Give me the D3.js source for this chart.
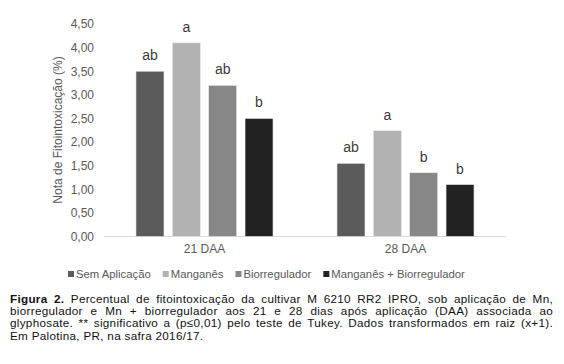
<!DOCTYPE html>
<meta charset="utf-8">
<head>
<script src="https://cdn.jsdelivr.net/npm/d3@7"></script>
<style>
body { margin: 0; background: #fff; }
svg { display: block; font-family: "Liberation Sans", Arial, sans-serif; }
.axis text { font-size: 12px; fill: #595959; }
.caption { position: absolute; left: 10px; top: 292.5px; width: 543px;
  font-family: "Liberation Sans", Arial, sans-serif; font-size: 11.7px; letter-spacing: 0.3px;
  line-height: 12.4px; color: #111; }
.caption div { text-align: justify; text-align-last: justify; white-space: nowrap; }
.caption div.last { text-align-last: left; }
</style>
</head>
<body>
<div id="chart"></div>
<div class="caption" id="caption"></div>
<script>
// data
var categories = ["21 DAA", "28 DAA"];
var series = ["Sem Aplicação", "Manganês", "Biorregulador", "Manganês + Biorregulador"];
var colors = ["#5b5b5b", "#b2b2b2", "#878787", "#222222"];
var values = [
    [3.5, 1.55],   // Sem Aplicação
    [4.1, 2.24],   // Manganês
    [3.2, 1.35],   // Biorregulador
    [2.5, 1.1]     // Manganês + Biorregulador
];
var letters = [
    ["ab", "ab"],
    ["a", "a"],
    ["ab", "b"],
    ["b", "b"]
];
var yTicks = [0, 0.5, 1, 1.5, 2, 2.5, 3, 3.5, 4, 4.5];
var captionLines = [
    "<b>Figura 2.</b> Percentual de fitointoxicação da cultivar M 6210 RR2 IPRO, sob aplicação de Mn,",
    "biorregulador e Mn + biorregulador aos 21 e 28 dias após aplicação (DAA) associada ao",
    "glyphosate. ** significativo a (p≤0,01) pelo teste de Tukey. Dados transformados em raiz (x+1).",
    "Em Palotina, PR, na safra 2016/17."
];

var W = 564, H = 364;
var svg = d3.select("#chart").append("svg")
    .attr("width", W).attr("height", H);

var x0 = d3.scaleBand().domain(categories).range([104, 506]);
var x1 = d3.scaleBand().domain(series).range([0, x0.bandwidth()])
    .paddingInner(0.23).paddingOuter(0.88);
var y = d3.scaleLinear().domain([0, 4.5]).range([236.5, 24]);

var fmt = function (d) { return d3.format(".2f")(d).replace(".", ","); };

// y axis, labels only
var yAxis = svg.append("g")
    .attr("class", "axis")
    .attr("transform", "translate(98,0)")
    .call(d3.axisLeft(y).tickValues(yTicks).tickFormat(fmt).tickSize(0).tickPadding(4));
yAxis.select(".domain").remove();

// baseline
svg.append("line")
    .attr("x1", 104).attr("x2", 506)
    .attr("y1", y(0)).attr("y2", y(0))
    .attr("stroke", "#d9d9d9").attr("stroke-width", 1);

// category labels
var xAxis = svg.append("g")
    .attr("class", "axis")
    .attr("transform", "translate(0," + y(0) + ")")
    .call(d3.axisBottom(x0).tickSize(0).tickPadding(8));
xAxis.select(".domain").remove();

// y title
svg.append("text")
    .attr("transform", "translate(62,130) rotate(-90)")
    .attr("text-anchor", "middle")
    .attr("font-size", 12).attr("fill", "#595959")
    .text("Nota de Fitointoxicação (%)");

// bars
var groups = svg.selectAll(".grp")
    .data(categories)
    .enter().append("g")
    .attr("transform", function (d) { return "translate(" + x0(d) + ",0)"; });

groups.each(function (cat, ci) {
    var g = d3.select(this);
    series.forEach(function (s, si) {
        var v = values[si][ci];
        g.append("rect")
            .attr("x", x1(s)).attr("width", x1.bandwidth())
            .attr("y", y(v)).attr("height", y(0) - y(v))
            .attr("fill", colors[si])
            .attr("stroke", "#e8e8e8").attr("stroke-width", 0.6);
        g.append("text")
            .attr("x", x1(s) + x1.bandwidth() / 2)
            .attr("y", y(v) - 11)
            .attr("text-anchor", "middle")
            .attr("font-size", 14).attr("fill", "#3a3a3a")
            .text(letters[si][ci]);
    });
});

// legend
var leg = svg.append("g").attr("transform", "translate(68,274)");
var lx = 0;
series.forEach(function (s, i) {
    leg.append("rect")
        .attr("x", lx).attr("y", -3).attr("width", 6).attr("height", 6)
        .attr("fill", colors[i]);
    var t = leg.append("text")
        .attr("x", lx + 8).attr("y", 4)
        .attr("font-size", 11.3).attr("fill", "#595959")
        .text(s);
    lx += 8 + t.node().getComputedTextLength() + 12;
});

// caption
d3.select("#caption").selectAll("div")
    .data(captionLines)
    .enter().append("div")
    .attr("class", function (d, i) { return i === captionLines.length - 1 ? "last" : null; })
    .html(function (d) { return d; });
</script>
</body>
